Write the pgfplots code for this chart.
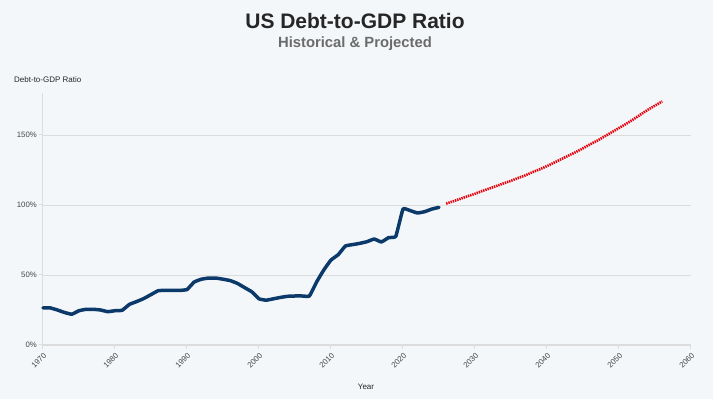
\documentclass[border=0pt]{standalone}
\usepackage{pgfplots}
\pgfplotsset{compat=1.18}
\usepackage{fontspec}
\setmainfont{Liberation Sans}
\definecolor{bg}{HTML}{F4F7FA}
\definecolor{blueline}{HTML}{0B3A6A}
\definecolor{redline}{HTML}{E8000B}
\definecolor{gridc}{HTML}{DCDCDC}
\definecolor{tickc}{HTML}{444444}
\pgfplotstableread{
year val
1970 26.5
1971 26.5
1972 25.0
1973 23.2
1974 22.0
1975 24.5
1976 25.5
1977 25.5
1978 25.0
1979 23.8
1980 24.5
1981 24.8
1982 29.0
1983 31.0
1984 33.2
1985 36.0
1986 38.8
1987 39.0
1988 39.0
1989 39.0
1990 39.6
1991 45.0
1992 47.0
1993 47.8
1994 47.8
1995 47.0
1996 46.0
1997 44.0
1998 41.0
1999 38.0
2000 33.0
2001 32.0
2002 33.0
2003 34.0
2004 34.8
2005 35.0
2006 35.0
2007 35.0
2008 45.0
2009 53.6
2010 60.7
2011 64.5
2012 70.7
2013 71.7
2014 72.6
2015 73.8
2016 75.7
2017 73.6
2018 76.7
2019 77.6
2020 97.1
2021 96.0
2022 94.3
2023 95.2
2024 97.1
2025 98.3
}\histdata
\pgfplotstableread{
year val
2026 101.0
2027 102.7
2028 104.5
2029 106.3
2030 108.0
2031 110.0
2032 111.8
2033 113.6
2034 115.5
2035 117.3
2036 119.3
2037 121.2
2038 123.5
2039 125.5
2040 127.8
2041 130.3
2042 132.8
2043 135.3
2044 137.8
2045 140.5
2046 143.4
2047 146.0
2048 149.0
2049 152.0
2050 155.0
2051 158.0
2052 161.2
2053 164.6
2054 168.0
2055 171.0
2056 174.0
}\projdata
\begin{document}
\begin{tikzpicture}
\fill[bg] (0pt,0pt) rectangle (713pt,399pt);
\path[use as bounding box] (0pt,0pt) rectangle (713pt,399pt);
\node[font=\bfseries\fontsize{21}{21}\selectfont, text=black!85, anchor=base] at (355pt,370pt) {US Debt-to-GDP Ratio};
\node[font=\bfseries\fontsize{14.8}{15}\selectfont, text=black!58, anchor=base] at (355pt,351pt) {Historical \& Projected};
\node[font=\fontsize{8}{8}\selectfont, text=black!85, anchor=base west, inner sep=0pt] at (14pt,316pt) {Debt-to-GDP Ratio};
\node[font=\fontsize{8}{8}\selectfont, text=black!85, anchor=base, inner sep=0pt] at (366pt,9pt) {Year};
\begin{axis}[at={(43pt,54pt)}, anchor=south west, scale only axis,
  width=648pt, height=252pt,
  xmin=1970, xmax=2060, ymin=0, ymax=180,
  axis lines*=left,
  axis line style={gridc, line width=1pt},
  xtick={1970,1980,...,2060},
  ytick={0,50,100,150},
  ymajorgrids,
  grid style={gridc, line width=0.8pt},
  tick align=outside,
  major tick length=4pt,
  tick style={gridc, line width=1pt},
  /pgf/number format/assume math mode=true,
  /pgf/number format/1000 sep={},
  yticklabel={\pgfmathprintnumber{\tick}\%},
  ticklabel style={font=\fontsize{7.8}{8}\selectfont, text=tickc},
  xticklabel style={rotate=45, anchor=north east, inner sep=2pt},
  yticklabel style={inner sep=2pt},
  clip=false,
]
\addplot[blueline, line width=3.5pt, line join=round, line cap=round, smooth, tension=0.2] table[x=year,y=val] {\histdata};
\addplot[redline, line width=2.6pt, dash pattern=on 1.4pt off 0.9pt] table[x=year,y=val] {\projdata};
\end{axis}
\end{tikzpicture}
\end{document}
